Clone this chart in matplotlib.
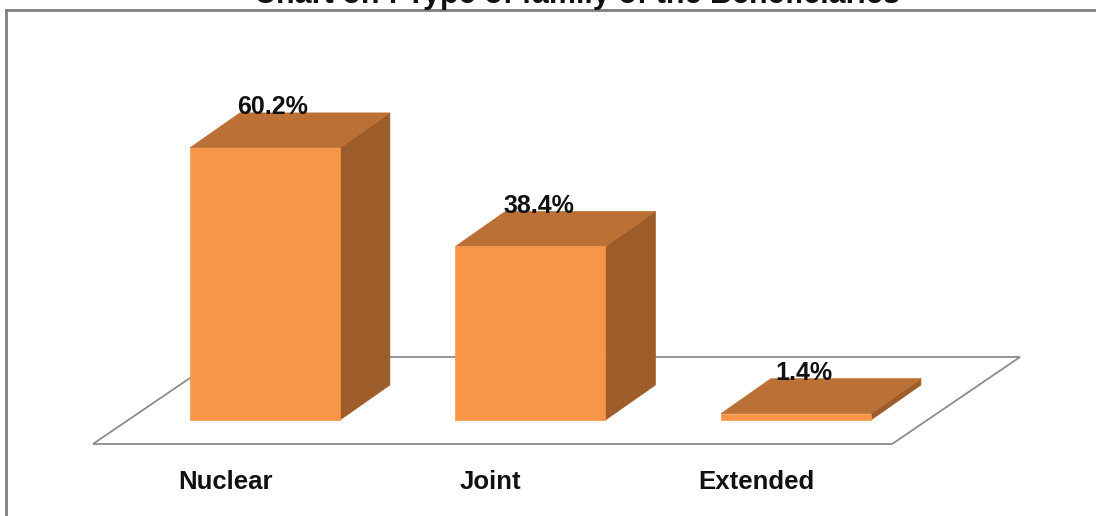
import matplotlib
matplotlib.use('Agg')
import matplotlib.pyplot as plt
from matplotlib.lines import Line2D

categories = ['Nuclear', 'Joint', 'Extended']
values = [60.2, 38.4, 1.4]
value_labels = ['60.2%', '38.4%', '1.4%']
title = 'Chart on : Type of family of the Beneficiaries'

plt.rcParams['font.family'] = ['Liberation Sans', 'DejaVu Sans']

FRONT = '#f79646'
TOP = '#bb7035'
SIDE = '#9c5d2a'

W, H = 1096, 516
fig = plt.figure(figsize=(W / 100, H / 100), dpi=100)
ax = fig.add_axes([0, 0, 1, 1])
ax.set_xlim(-0.998, 3.130)
ax.set_ylim(-21.24, 92.92)
ax.axis('off')

bar_w = 0.565      # bar width in category units
dx, dy = 0.188, 7.74   # 3d depth offset of the bars

# floor of the 3d plot area
fx0, fx1 = -0.648, 2.362
fy0, fy1 = -5.31, 13.94
fdx = 0.482
ax.fill([fx0, fx1, fx1 + fdx, fx0 + fdx], [fy0, fy0, fy1, fy1],
        facecolor='white', edgecolor='#8c8c8c', linewidth=1.3, zorder=1)

for i, v in enumerate(values):
    x0, x1 = i - bar_w / 2, i + bar_w / 2
    # side face
    ax.fill([x1, x1 + dx, x1 + dx, x1], [0, dy, v + dy, v],
            facecolor=SIDE, edgecolor=SIDE, linewidth=0.5, zorder=2)
    # top face
    ax.fill([x0, x1, x1 + dx, x0 + dx], [v, v, v + dy, v + dy],
            facecolor=TOP, edgecolor=TOP, linewidth=0.5, zorder=3)
    # front face
    ax.fill([x0, x1, x1, x0], [0, 0, v, v],
            facecolor=FRONT, edgecolor=FRONT, linewidth=0.5, zorder=4)
    ax.text(i + 0.03, v + dy - 0.3, value_labels[i], ha='center', va='baseline',
            fontsize=18, fontweight='bold', color='#111111', zorder=5)
    ax.text(i - 0.15, -13.7, categories[i], ha='center', va='center',
            fontsize=18.5, fontweight='bold', color='#111111')

# chart frame (only top and left edges are inside the crop)
fig.add_artist(Line2D([6 / W, 1], [1 - 10 / H, 1 - 10 / H], color='#7f7f7f', lw=2))
fig.add_artist(Line2D([6 / W, 6 / W], [0, 1 - 10 / H], color='#7f7f7f', lw=2))

fig.text(577 / W, 1 - 3 / H, title, ha='center', va='baseline',
         fontsize=22, fontweight='bold', color='#111111')

fig.savefig('out.png', dpi=100)
